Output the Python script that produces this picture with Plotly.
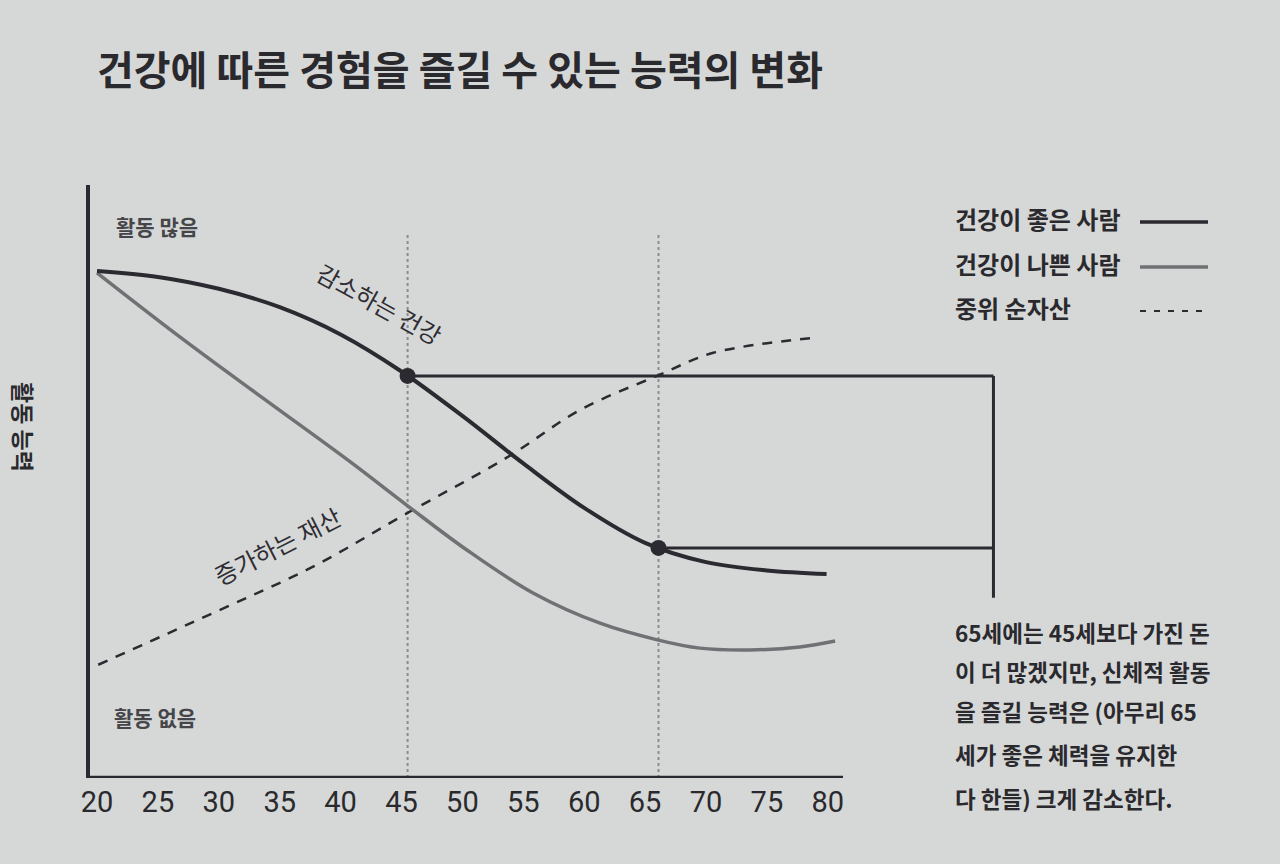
import plotly.graph_objects as go

# ---------------- data ----------------
age_ticks = [20, 25, 30, 35, 40, 45, 50, 55, 60, 65, 70, 75, 80]

ages_good = [20, 25, 30, 35, 40, 45, 50, 55, 60, 65, 70, 75, 79.9]
ability_good = [85.5, 84.5, 82.5, 79.4, 74.8, 68.55, 61.05, 53.05, 45.55, 39.65, 36.4, 35.0, 34.4]

ages_poor = [20, 26.8, 33.6, 40.8, 45.5, 50.4, 55.8, 61.3, 66.0, 69.5, 73.6, 77.7, 80.6]
ability_poor = [85.2, 74.4, 64.1, 53.3, 45.9, 38.4, 31.2, 26.1, 23.3, 21.9, 21.6, 22.1, 23.1]

ages_wealth = [20.1, 29.5, 37.7, 45.5, 53.7, 59.7, 66.2, 70.6, 78.8]
wealth = [19.1, 27.8, 35.6, 44.7, 54.1, 62.1, 68.0, 71.7, 74.2]

marker_ages = [45.5, 66.1]
marker_ability = [67.8, 38.8]
guide_top = 92.0
bracket_age = 93.6
bracket_bottom = 30.4

title_text = "건강에 따른 경험을 즐길 수 있는 능력의 변화"
legend_labels = ["건강이 좋은 사람", "건강이 나쁜 사람", "중위 순자산"]
note_lines = ["65세에는 45세보다 가진 돈", "이 더 많겠지만, 신체적 활동",
              "을 즐길 능력은 (아무리 65", "세가 좋은 체력을 유지한", "다 한들) 크게 감소한다."]

# ---------------- styling ----------------
W, H = 1280, 864
BG = "#d6d8d7"
DARK = "#2c2a31"
GREY = "#717175"
KR = "Noto Sans CJK KR"

def px(x):
    return x / W

def py(y):
    return 1 - y / H

# plot area in pixels
L, R, T, B = 90, 1000, 185, 778
x_per_px = 1 / 12.18
x0 = 20 - (97 - L) * x_per_px
x1 = 20 + (R - 97) * x_per_px
x_axis_end = 20 + (843 - 97) * x_per_px

fig = go.Figure()

# vertical dotted guides
for a in marker_ages:
    fig.add_trace(go.Scatter(x=[a, a], y=[0, guide_top], mode="lines",
                             line=dict(color="#8c8c90", width=2, dash="dot"),
                             hoverinfo="skip", showlegend=False))

# bracket lines
for a, v in zip(marker_ages, marker_ability):
    fig.add_trace(go.Scatter(x=[a, bracket_age], y=[v, v], mode="lines",
                             line=dict(color=DARK, width=3), hoverinfo="skip",
                             showlegend=False))
fig.add_trace(go.Scatter(x=[bracket_age, bracket_age], y=[marker_ability[0], bracket_bottom],
                         mode="lines", line=dict(color=DARK, width=3),
                         hoverinfo="skip", showlegend=False))

fig.add_trace(go.Scatter(x=ages_wealth, y=wealth, mode="lines", line_shape="spline",
                         line=dict(color=DARK, width=2.5, dash="10px,9px"),
                         name=legend_labels[2], showlegend=False))
fig.add_trace(go.Scatter(x=ages_poor, y=ability_poor, mode="lines", line_shape="spline",
                         line=dict(color=GREY, width=3.5),
                         name=legend_labels[1], showlegend=False))
fig.add_trace(go.Scatter(x=ages_good, y=ability_good, mode="lines", line_shape="spline",
                         line=dict(color=DARK, width=4),
                         name=legend_labels[0], showlegend=False))
fig.add_trace(go.Scatter(x=marker_ages, y=marker_ability, mode="markers",
                         marker=dict(color=DARK, size=16), showlegend=False,
                         hoverinfo="skip"))

fig.update_layout(
    width=W, height=H,
    margin=dict(l=0, r=0, t=0, b=0),
    paper_bgcolor=BG, plot_bgcolor=BG,
    showlegend=False,
    xaxis=dict(domain=[px(L), px(R)], range=[x0, x1], showgrid=False, zeroline=False,
               showline=False, tickmode="array", tickvals=age_ticks,
               ticktext=[str(t) for t in age_ticks], ticks="",
               tickfont=dict(family="Liberation Sans Narrow, Roboto", size=29, color="#2a2a2e"),
               automargin=False, ticklabelstandoff=4),
    yaxis=dict(domain=[py(B), py(T)], range=[0, 100], showgrid=False, zeroline=False,
               showline=True, linecolor=DARK, linewidth=3.5, showticklabels=False,
               ticks="", automargin=False),
)

# x axis line (stops just past 80)
fig.add_shape(type="line", xref="x", yref="y", x0=x0, x1=x_axis_end, y0=0, y1=0,
              line=dict(color=DARK, width=4.5))

# title
fig.add_annotation(x=px(95), y=py(68), xref="paper", yref="paper", text="<b>" + title_text + "</b>",
                   showarrow=False, xanchor="left", yanchor="middle",
                   font=dict(family=KR, size=40, color="#2a292e"))

# y axis title
fig.add_annotation(x=px(24), y=py(427), xref="paper", yref="paper", text="<b>활동 능력</b>",
                   showarrow=False, textangle=90, xanchor="center", yanchor="middle",
                   font=dict(family=KR, size=23, color="#2a292e"))

# axis end labels
fig.add_annotation(x=px(114), y=py(226), xref="paper", yref="paper", text="<b>활동 많음</b>",
                   showarrow=False, xanchor="left", yanchor="middle",
                   font=dict(family=KR, size=21, color="#45454a"))
fig.add_annotation(x=px(112), y=py(717), xref="paper", yref="paper", text="<b>활동 없음</b>",
                   showarrow=False, xanchor="left", yanchor="middle",
                   font=dict(family=KR, size=21, color="#45454a"))

# curve labels
fig.add_annotation(x=px(380), y=py(303), xref="paper", yref="paper", text="감소하는 건강",
                   showarrow=False, textangle=29, xanchor="center", yanchor="middle",
                   font=dict(family=KR, size=24, color="#2e2d33"))
fig.add_annotation(x=px(277), y=py(545), xref="paper", yref="paper", text="증가하는 재산",
                   showarrow=False, textangle=-27, xanchor="center", yanchor="middle",
                   font=dict(family=KR, size=24, color="#2e2d33"))

# manual legend (text left, sample line right)
legend_rows = [218, 263, 307]
legend_styles = [dict(color=DARK, width=3.5), dict(color=GREY, width=3.5),
                 dict(color=DARK, width=2, dash="6px,8px")]
for lab, yy, st in zip(legend_labels, legend_rows, legend_styles):
    fig.add_annotation(x=px(953), y=py(yy), xref="paper", yref="paper", text="<b>" + lab + "</b>",
                       showarrow=False, xanchor="left", yanchor="middle",
                       font=dict(family=KR, size=24, color="#2a292e"))
    fig.add_shape(type="line", xref="paper", yref="paper", x0=px(1140), x1=px(1208),
                  y0=py(yy + 4), y1=py(yy + 4), line=st)

# note text
note_rows = [632, 671, 711, 754, 798]
for line, yy in zip(note_lines, note_rows):
    fig.add_annotation(x=px(953), y=py(yy), xref="paper", yref="paper", text="<b>" + line + "</b>",
                       showarrow=False, xanchor="left", yanchor="middle",
                       font=dict(family=KR, size=22.5, color="#2a292e"))

fig.write_html("out.html", config={"displayModeBar": False},
               post_script="document.body.style.margin='0px';")
